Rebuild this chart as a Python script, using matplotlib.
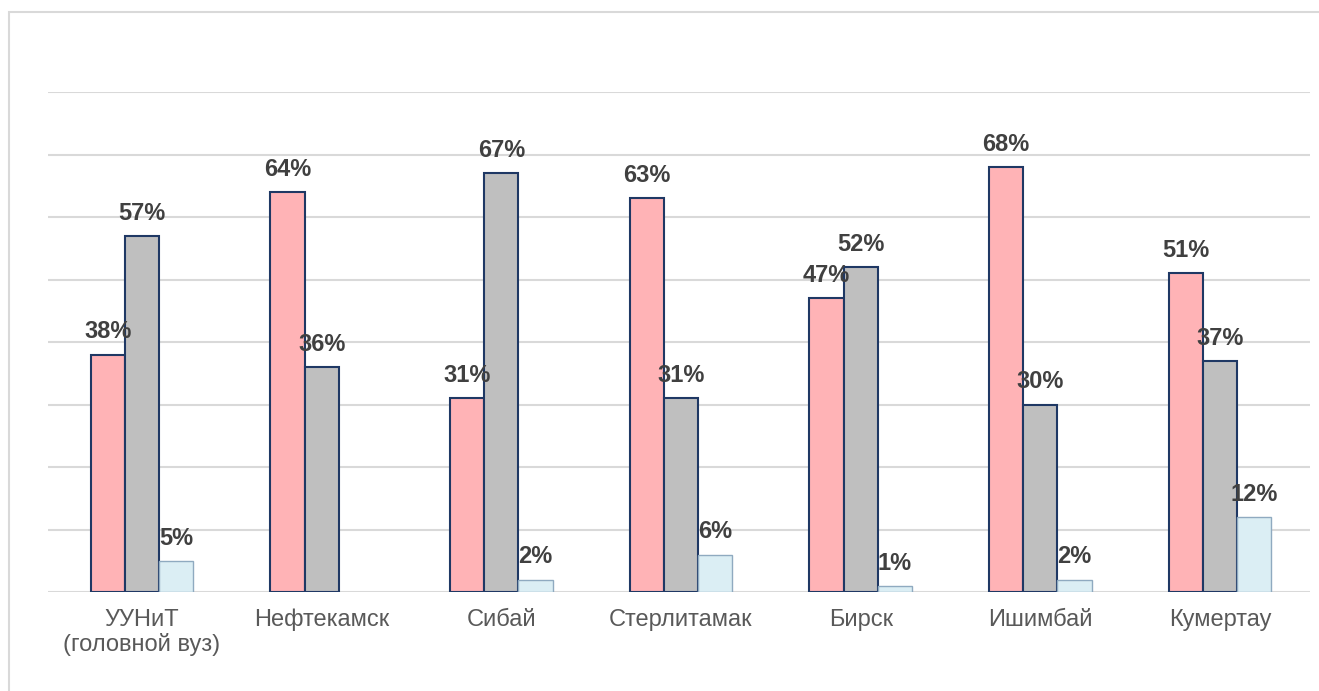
import matplotlib.pyplot as plt
import matplotlib.patches as patches
import numpy as np

plt.rcParams["font.family"] = ["Liberation Sans", "DejaVu Sans"]

categories = ["УУНиТ\n(головной вуз)", "Нефтекамск", "Сибай", "Стерлитамак",
              "Бирск", "Ишимбай", "Кумертау"]
series_a = [38, 64, 31, 63, 47, 68, 51]
series_b = [57, 36, 67, 31, 52, 30, 37]
series_c = [5, None, 2, 6, 1, 2, 12]

fig = plt.figure(figsize=(13.19, 6.91), dpi=100)
ax = fig.add_axes([48 / 1319, 1 - 592 / 691, 1262 / 1319, 500 / 691])

x = np.arange(len(categories))
w = 0.19
styles = [
    (series_a, "#ffb3b6", "#1f3864", 1.5),
    (series_b, "#bfbfbf", "#1f3864", 1.5),
    (series_c, "#dbeef4", "#8faac0", 1.0),
]
for i, (vals, face, edge, lw) in enumerate(styles):
    pos = x + (i - 1) * w
    v = [np.nan if val is None else val for val in vals]
    ax.bar(pos, v, width=w, color=face, edgecolor=edge, linewidth=lw, zorder=3)
    for px, val in zip(pos, vals):
        if val is None:
            continue
        ax.annotate(f"{val}%", (px, val), xytext=(0, 8), textcoords="offset points",
                    ha="center", va="bottom", fontsize=17, fontweight="bold",
                    color="#404040", zorder=4)

# category spacing in the picture is ~179.7 px, first group centred at x=142
ax.set_xlim(-0.523, 6.501)
ax.set_ylim(0, 80)
ax.set_yticks(range(0, 81, 10))
ax.set_yticklabels([])
ax.tick_params(axis="y", length=0)
ax.tick_params(axis="x", length=0, pad=12, labelsize=17, labelcolor="#595959")
ax.set_xticks(x)
ax.set_xticklabels(categories, linespacing=1.15)
ax.grid(axis="y", color="#d9d9d9", linewidth=1.5, zorder=0)
for s in ax.spines.values():
    s.set_visible(False)

frame = patches.Rectangle((9 / 1319, -0.1), 1.2, 1 - 12 / 691 + 0.1, transform=fig.transFigure,
                          fill=False, edgecolor="#d9d9d9", linewidth=1.5, clip_on=False)
fig.patches.append(frame)

fig.savefig("out.png", dpi=100)
